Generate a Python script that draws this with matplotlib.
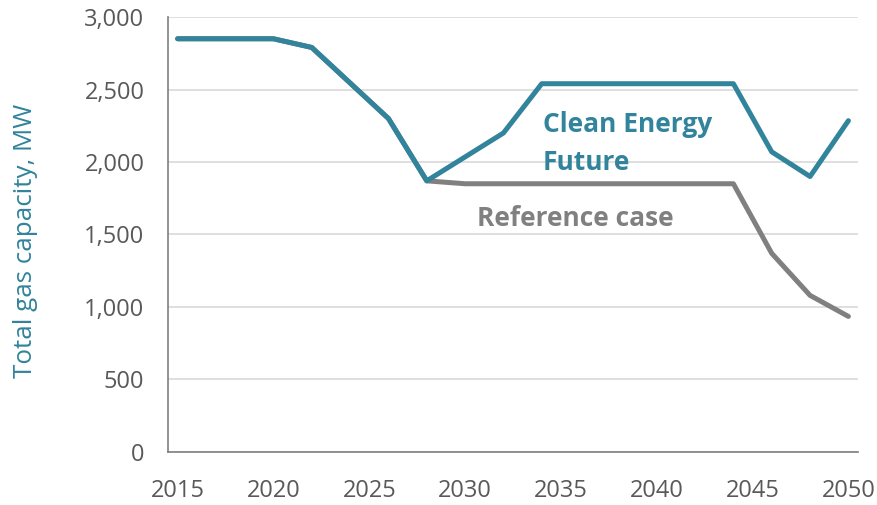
import matplotlib
matplotlib.use("Agg")
import matplotlib.pyplot as plt
from matplotlib.ticker import FuncFormatter, MultipleLocator

plt.rcParams['font.family'] = ['Open Sans', 'DejaVu Sans']

clean_years = [2015, 2020, 2022, 2026, 2028, 2032, 2034, 2044, 2046, 2048, 2050]
clean_values = [2850, 2850, 2790, 2300, 1870, 2200, 2540, 2540, 2070, 1900, 2285]

ref_years = [2015, 2020, 2022, 2026, 2028, 2030, 2044, 2046, 2048, 2050]
ref_values = [2850, 2850, 2790, 2300, 1870, 1850, 1850, 1370, 1080, 935]

x_ticks = [2015, 2020, 2025, 2030, 2035, 2040, 2045, 2050]

teal = '#31849B'
grey = '#808080'
tick_col = '#595959'

fig = plt.figure(figsize=(8.77, 5.05), dpi=100)
ax = fig.add_axes([0.1916, 0.105, 0.7867, 0.8613])

ax.plot(ref_years, ref_values, color=grey, lw=3.6, solid_capstyle='round', solid_joinstyle='round', zorder=3)
ax.plot(clean_years, clean_values, color=teal, lw=3.6, solid_capstyle='round', solid_joinstyle='round', zorder=4)

ax.set_xlim(2014.5, 2050.5)
ax.set_ylim(0, 3000)
ax.set_xticks(x_ticks)
ax.yaxis.set_major_locator(MultipleLocator(500))
ax.yaxis.set_major_formatter(FuncFormatter(lambda v, p: f"{int(v):,}"))
ax.tick_params(axis='both', length=0, colors=tick_col, labelsize=17)
ax.tick_params(axis='x', pad=19.5)
ax.tick_params(axis='y', pad=17)

ax.grid(axis='y', color='#d9d9d9', lw=1.2, zorder=0)
ax.set_axisbelow(True)
for s in ['top', 'right']:
    ax.spines[s].set_visible(False)
for s in ['left', 'bottom']:
    ax.spines[s].set_color('#7f7f7f')
    ax.spines[s].set_linewidth(1.2)

ax.set_ylabel('Total gas capacity, MW', color=teal, fontsize=18.7, labelpad=33)
ax.yaxis.label.set_y(0.485)

ax.text(2034.06, 2207, 'Clean Energy', color=teal, fontsize=19, fontweight='bold',
        ha='left', va='baseline')
ax.text(2034.06, 1945, 'Future', color=teal, fontsize=19, fontweight='bold',
        ha='left', va='baseline')
ax.text(2030.6, 1559, 'Reference case', color=grey, fontsize=19, fontweight='bold',
        ha='left', va='baseline')

fig.savefig('out.png', dpi=100)
